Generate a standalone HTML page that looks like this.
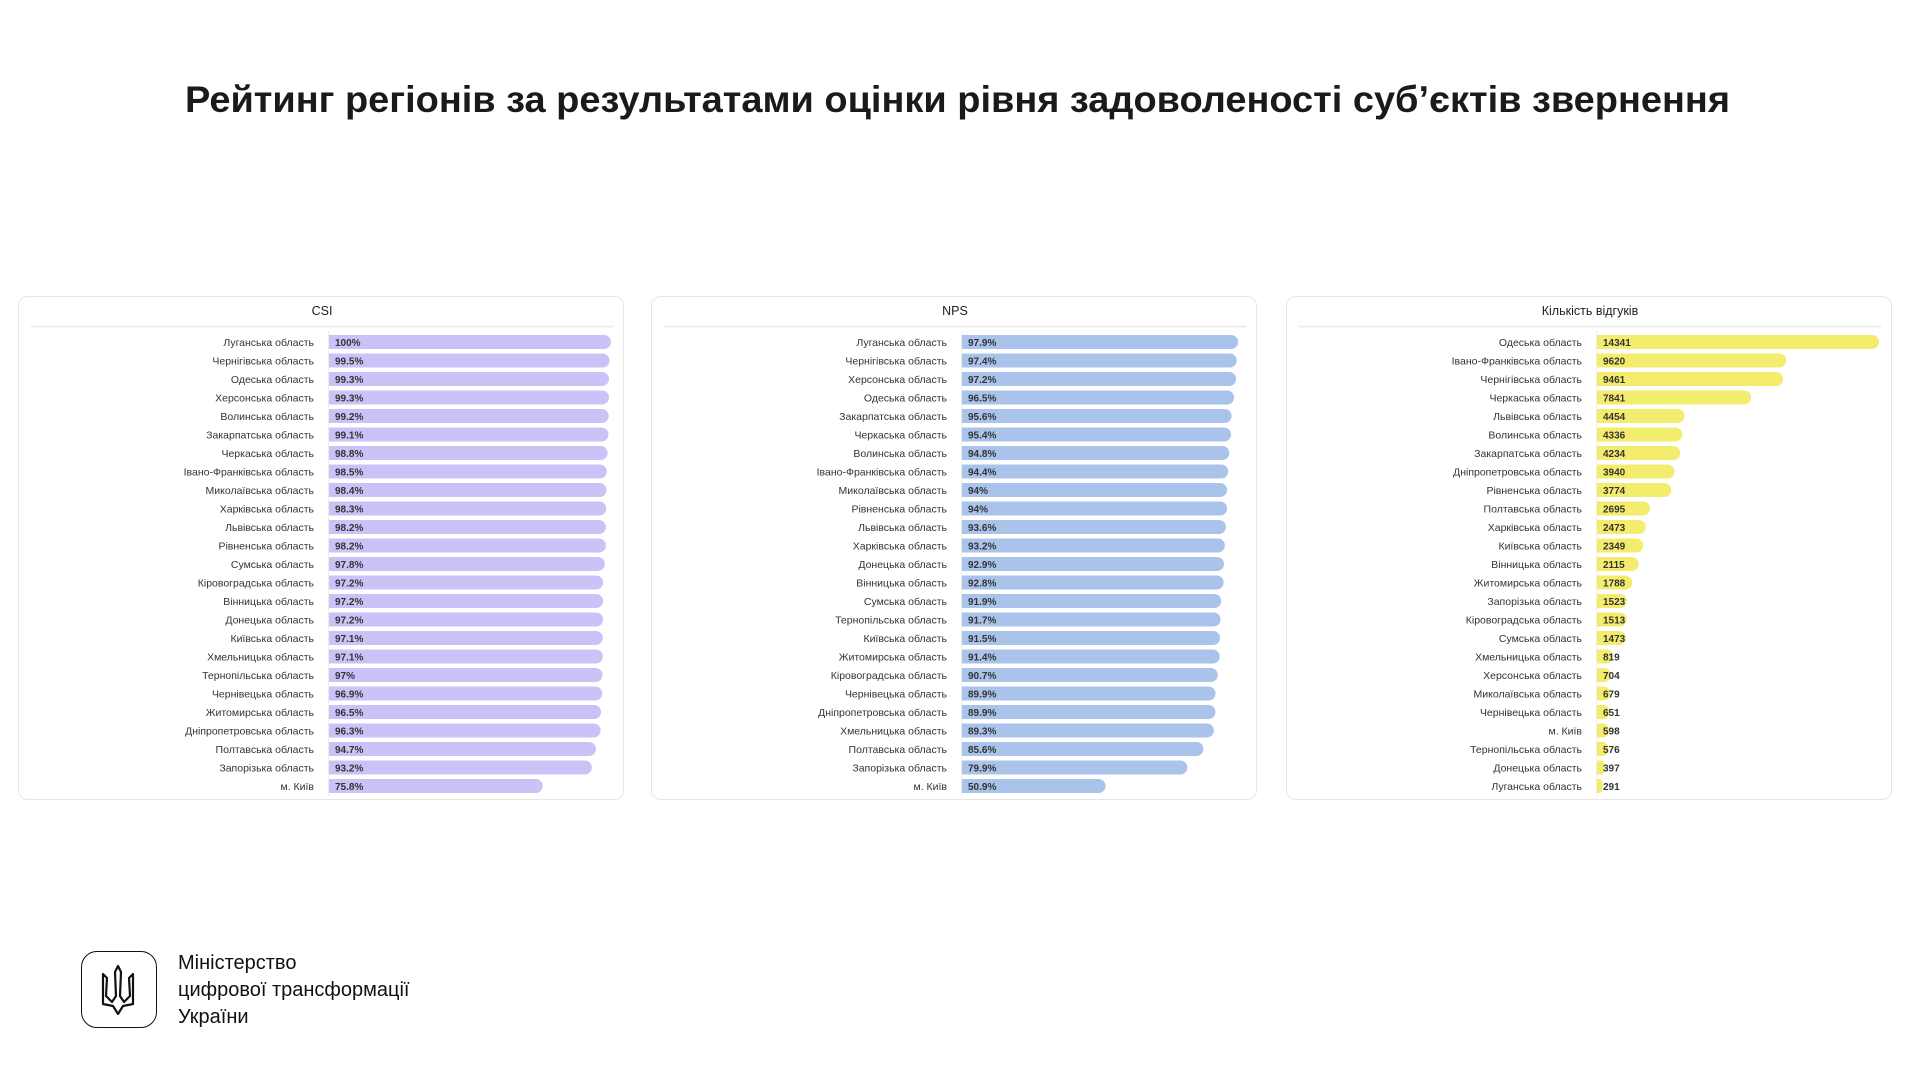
<!DOCTYPE html>
<html lang="uk">
<head>
<meta charset="utf-8">
<style>
  html,body{margin:0;padding:0;background:#fff;}
  body{width:1920px;height:1080px;position:relative;overflow:hidden;font-family:"Liberation Sans","DejaVu Sans",sans-serif;}
  .panel{position:absolute;top:296px;width:606px;height:504px;border:1px solid #e6e6e6;border-radius:10px;box-sizing:border-box;background:#fff;}
  .footer-text{position:absolute;left:178px;top:950px;font-size:20px;line-height:27px;color:#111;}
</style>
</head>
<body>
<svg width="1920" height="140" style="position:absolute;left:0;top:0">
  <text x="185" y="112" font-size="37" font-weight="bold" font-family="Liberation Sans, sans-serif" fill="#1a1a1a" textLength="1545" lengthAdjust="spacingAndGlyphs">Рейтинг регіонів за результатами оцінки рівня задоволеності суб’єктів звернення</text>
</svg>

<div class="panel" style="left:18px"><svg id="csi" width="606" height="504"></svg></div>
<div class="panel" style="left:651px"><svg id="nps" width="606" height="504"></svg></div>
<div class="panel" style="left:1286px"><svg id="cnt" width="606" height="504"></svg></div>

<div style="position:absolute;left:81px;top:951px;width:76px;height:77px;border:1.5px solid #111;border-radius:16px;box-sizing:border-box;">
  <svg width="73" height="74" viewBox="0 0 73 74">
    <path d="M36 14 L33 20 L34 44 L30 50 L24 44 L25 26 L21 22 L21 52 L31 54 L36 62 L41 54 L51 52 L51 22 L47 26 L48 44 L42 50 L38 44 L39 20 Z" fill="none" stroke="#111" stroke-width="2.2" stroke-linejoin="round"/>
  </svg>
</div>
<div class="footer-text">Міністерство<br>цифрової трансформації<br>України</div>

<script>
const csiRegions = ["Луганська область","Чернігівська область","Одеська область","Херсонська область","Волинська область","Закарпатська область","Черкаська область","Івано-Франківська область","Миколаївська область","Харківська область","Львівська область","Рівненська область","Сумська область","Кіровоградська область","Вінницька область","Донецька область","Київська область","Хмельницька область","Тернопільська область","Чернівецька область","Житомирська область","Дніпропетровська область","Полтавська область","Запорізька область","м. Київ"];
const csiValues = [100,99.5,99.3,99.3,99.2,99.1,98.8,98.5,98.4,98.3,98.2,98.2,97.8,97.2,97.2,97.2,97.1,97.1,97,96.9,96.5,96.3,94.7,93.2,75.8];
const npsRegions = ["Луганська область","Чернігівська область","Херсонська область","Одеська область","Закарпатська область","Черкаська область","Волинська область","Івано-Франківська область","Миколаївська область","Рівненська область","Львівська область","Харківська область","Донецька область","Вінницька область","Сумська область","Тернопільська область","Київська область","Житомирська область","Кіровоградська область","Чернівецька область","Дніпропетровська область","Хмельницька область","Полтавська область","Запорізька область","м. Київ"];
const npsValues = [97.9,97.4,97.2,96.5,95.6,95.4,94.8,94.4,94,94,93.6,93.2,92.9,92.8,91.9,91.7,91.5,91.4,90.7,89.9,89.9,89.3,85.6,79.9,50.9];
const cntRegions = ["Одеська область","Івано-Франківська область","Чернігівська область","Черкаська область","Львівська область","Волинська область","Закарпатська область","Дніпропетровська область","Рівненська область","Полтавська область","Харківська область","Київська область","Вінницька область","Житомирська область","Запорізька область","Кіровоградська область","Сумська область","Хмельницька область","Херсонська область","Миколаївська область","Чернівецька область","м. Київ","Тернопільська область","Донецька область","Луганська область"];
const cntValues = [14341,9620,9461,7841,4454,4336,4234,3940,3774,2695,2473,2349,2115,1788,1523,1513,1473,819,704,679,651,598,576,397,291];

const NS = "http://www.w3.org/2000/svg";
function mk(tag, attrs, parent){const e=document.createElementNS(NS,tag);for(const k in attrs)e.setAttribute(k,attrs[k]);parent.appendChild(e);return e;}

function drawChart(id, title, cats, vals, maxV, color, fmt, key){
  const svg=document.getElementById(id);
  const t=mk("text",{x:303,y:18,"font-size":12.5,"text-anchor":"middle",fill:"#222"},svg);
  t.textContent=title;
  
  
  const d=mk("line",{x1:12,x2:594,y1:29.5,y2:29.5,stroke:"#ececec","stroke-width":2},svg);
  
  
  const x0=310, maxW=282;
  const xs=v=>v/maxV*maxW;
  const y0=45, step=18.5, bh=14;
  const ax=mk("line",{x1:x0-0.5,x2:x0-0.5,y1:34,y2:y0+step*(cats.length-1)+10,stroke:"#eee"},svg);
  
  
  cats.forEach((c,i)=>{
    const yc=y0+i*step;
    const lab=mk("text",{x:x0-15,y:yc+4,"font-size":10.5,"text-anchor":"end",fill:"#333"},svg);
    lab.textContent=c;
    
    
    const w=Math.max(xs(vals[i]),3);
    const r=Math.min(bh/2,w/2);
    const b=mk("path",{d:`M${x0} ${yc-bh/2} H${x0+w-r} A${r} ${bh/2} 0 0 1 ${x0+w-r} ${yc+bh/2} H${x0} Z`,fill:color},svg);
    
    
    const v=mk("text",{x:x0+6,y:yc+3.8,"font-size":10,"font-weight":"bold",fill:"#333"},svg);
    v.textContent=fmt(vals[i]);
    
    
  });
}
drawChart("csi","CSI",csiRegions,csiValues,100,"#cbc3f8",v=>v+"%","csi");
drawChart("nps","NPS",npsRegions,npsValues,100,"#a9c3eb",v=>v+"%","nps");
drawChart("cnt","Кількість відгуків",cntRegions,cntValues,Math.max(...cntValues),"#f3ec6d",v=>String(v),"count");
</script>
</body>
</html>
